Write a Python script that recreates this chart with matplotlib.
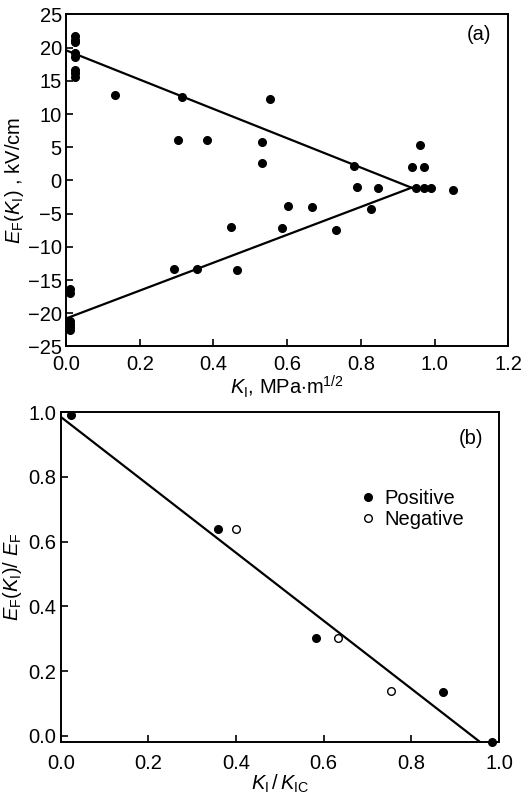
import numpy as np
import matplotlib
matplotlib.use('Agg')
import matplotlib.pyplot as plt

plt.rcParams['font.family'] = ['Liberation Sans', 'DejaVu Sans']
plt.rcParams['mathtext.fontset'] = 'custom'
plt.rcParams['mathtext.rm'] = 'Liberation Sans'
plt.rcParams['mathtext.it'] = 'Liberation Sans:italic'
plt.rcParams['font.size'] = 14.5

# (a) field vs stress intensity factor
ka_x = [0.025, 0.025, 0.025, 0.025, 0.025, 0.025, 0.025, 0.025,
        0.012, 0.012, 0.012, 0.012, 0.012, 0.012,
        0.133, 0.314, 0.305, 0.383, 0.531, 0.531, 0.553,
        0.781, 0.788, 0.847, 0.938, 0.961, 0.970,
        0.948, 0.970, 0.991, 1.050,
        0.603, 0.668, 0.826, 0.447, 0.587, 0.733,
        0.292, 0.354, 0.463]
ef_y = [21.7, 21.2, 20.8, 19.2, 18.6, 16.7, 16.1, 15.6,
        -16.4, -16.9, -21.2, -21.6, -22.1, -22.6,
        12.8, 12.5, 6.1, 6.1, 5.8, 2.6, 12.2,
        2.2, -1.0, -1.1, 2.0, 5.3, 2.0,
        -1.2, -1.2, -1.2, -1.4,
        -3.9, -4.0, -4.25, -7.0, -7.2, -7.4,
        -13.3, -13.3, -13.5]
upper_fit_x = [0.0, 0.937]
upper_fit_y = [19.6, -1.1]
lower_fit_x = [0.0, 0.937]
lower_fit_y = [-20.8, -1.1]

# (b) normalized field vs normalized K
pos_x = [0.024, 0.360, 0.583, 0.872, 0.984]
pos_y = [0.990, 0.640, 0.303, 0.135, -0.018]
neg_x = [0.400, 0.633, 0.753]
neg_y = [0.638, 0.302, 0.139]
fit_b_x = [0.0, 0.958]
fit_b_y = [0.985, -0.02]

fig = plt.figure(figsize=(5.28, 8.0), dpi=100)

ax1 = fig.add_axes([0.125, 0.567, 0.838, 0.415])
ax1.plot(ka_x, ef_y, 'ko', ms=5.5, zorder=3)
ax1.plot(upper_fit_x, upper_fit_y, 'k-', lw=1.6)
ax1.plot(lower_fit_x, lower_fit_y, 'k-', lw=1.6)
ax1.set_xlim(0, 1.2)
ax1.set_ylim(-25, 25)
ax1.set_xticks(np.arange(0, 1.21, 0.2))
ax1.set_xticklabels(['%.1f' % v for v in np.arange(0, 1.21, 0.2)])
ax1.set_yticks(np.arange(-25, 26, 5))
ax1.set_xlabel(r'$K_{\mathrm{I}}$, MPa$\cdot$m$^{1/2}$', labelpad=0)
ax1.set_ylabel(r'$E_{\mathrm{F}}(K_{\mathrm{I}})$ , kV/cm', labelpad=1)
ax1.text(0.96, 0.94, '(a)', transform=ax1.transAxes, ha='right', va='center')

ax2 = fig.add_axes([0.115, 0.072, 0.83, 0.413])
ax2.plot(pos_x, pos_y, 'ko', ms=5.5, label='Positive', zorder=3,
         clip_on=False)
ax2.plot(neg_x, neg_y, 'o', ms=5.5, mfc='white', mec='k', mew=1.0,
         label='Negative', zorder=3)
ax2.plot(fit_b_x, fit_b_y, 'k-', lw=1.6)
ax2.set_xlim(0, 1.0)
ax2.set_ylim(-0.02, 1.0)
ax2.set_xticks(np.arange(0, 1.01, 0.2))
ax2.set_xticklabels(['%.1f' % v for v in np.arange(0, 1.01, 0.2)])
ax2.set_yticks(np.arange(0, 1.01, 0.2))
ax2.set_yticklabels(['%.1f' % v for v in np.arange(0, 1.01, 0.2)])
ax2.set_xlabel(r'$K_{\mathrm{I}}\,/\,K_{\mathrm{IC}}$', labelpad=0)
ax2.set_ylabel(r'$E_{\mathrm{F}}(K_{\mathrm{I}})$/ $E_{\mathrm{F}}$',
               labelpad=3)
ax2.text(0.965, 0.92, '(b)', transform=ax2.transAxes, ha='right', va='center')
ax2.legend(loc='upper left', bbox_to_anchor=(0.66, 0.79), frameon=False,
           handletextpad=0.3, labelspacing=0.1, borderaxespad=0,
           handlelength=1.0)

for ax in (ax1, ax2):
    ax.tick_params(direction='in', length=5, width=1.2, top=False,
                   right=False, pad=3)
    for s in ax.spines.values():
        s.set_linewidth(1.4)
ax1.tick_params(axis='x', pad=6)
ax2.tick_params(axis='x', pad=8)

fig.savefig('out.png', dpi=100)
